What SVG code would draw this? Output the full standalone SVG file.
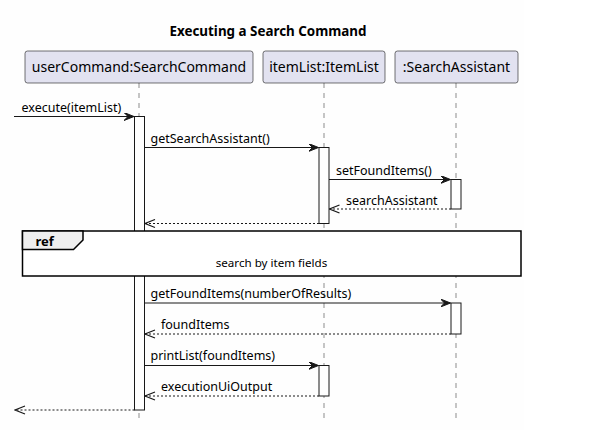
<svg xmlns="http://www.w3.org/2000/svg" width="608" height="436" viewBox="0 0 608 436">
  <defs>
    <style>
      .bg { fill: #FEFEFE; }
      .title { font-family: "Noto Sans", "Open Sans", sans-serif; font-size: 13.4px; font-weight: bold; fill: #000; }
      .pbox { fill: #E2E2F0; stroke: #181818; stroke-width: 0.6; }
      .ptext { font-family: "Noto Sans", "Open Sans", sans-serif; font-size: 14px; fill: #000; }
      .life { stroke: #181818; stroke-width: 0.5; stroke-dasharray: 5 5; fill: none; }
      .act { fill: #FFFFFF; stroke: #181818; stroke-width: 1; }
      .msg { stroke: #181818; stroke-width: 1; fill: none; }
      .ret { stroke: #181818; stroke-width: 1; stroke-dasharray: 2 2; fill: none; }
      .mtext { font-family: "Noto Sans", "Open Sans", sans-serif; font-size: 12.5px; fill: #000; }
      .head { fill: #181818; stroke: #181818; stroke-width: 1; }
      .ohead { fill: none; stroke: #181818; stroke-width: 1.2; }
      .refbox { fill: #FFFFFF; stroke: #000; stroke-width: 1.5; }
      .reftab { fill: #EEEEEE; stroke: #000; stroke-width: 1.5; }
      .reflabel { font-family: "Noto Sans", "Open Sans", sans-serif; font-size: 13px; font-weight: bold; fill: #000; }
      .reftext { font-family: "Noto Sans", "Open Sans", sans-serif; font-size: 11.6px; fill: #000; }
    </style>
    <marker id="solid" viewBox="0 0 10 8" refX="10" refY="4" markerWidth="10" markerHeight="8" markerUnits="userSpaceOnUse" orient="auto">
      <path class="head" d="M0,0 L10,4 L0,8 L4,4 Z"/>
    </marker>
    <marker id="open" viewBox="0 0 12 10" refX="11" refY="5" markerWidth="12" markerHeight="10" markerUnits="userSpaceOnUse" orient="auto">
      <path class="ohead" d="M1,1 L11,5 L1,9"/>
    </marker>
  </defs>

  <rect class="bg" x="0" y="0" width="524" height="430"/>

  <text class="title" x="268" y="36" text-anchor="middle">Executing a Search Command</text>

  <!-- lifelines -->
  <g id="lifelines">
    <line class="life" x1="139" y1="83" x2="139" y2="422"/>
    <line class="life" x1="324" y1="83" x2="324" y2="422"/>
    <line class="life" x1="456" y1="83" x2="456" y2="422"/>
  </g>

  <!-- participants -->
  <g id="userCommand">
    <rect class="pbox" x="25" y="51" width="228" height="32" rx="2.5"/>
    <text class="ptext" x="139" y="72" text-anchor="middle">userCommand:SearchCommand</text>
  </g>
  <g id="itemList">
    <rect class="pbox" x="263" y="51" width="122" height="32" rx="2.5"/>
    <text class="ptext" x="324" y="72" text-anchor="middle">itemList:ItemList</text>
  </g>
  <g id="searchAssistant">
    <rect class="pbox" x="395" y="51" width="123" height="32" rx="2.5"/>
    <text class="ptext" x="456.5" y="72" text-anchor="middle">:SearchAssistant</text>
  </g>

  <!-- activations -->
  <g id="activations">
    <rect class="act" x="134.5" y="116.5" width="10" height="293.5"/>
    <rect class="act" x="319" y="147.5" width="10" height="76"/>
    <rect class="act" x="451" y="179.5" width="10" height="29.5"/>
    <rect class="act" x="451" y="303" width="10" height="31"/>
    <rect class="act" x="319" y="365.5" width="10" height="30.5"/>
  </g>

  <!-- messages -->
  <g id="connectors">
    <line class="msg" x1="14" y1="116.5" x2="134" y2="116.5" marker-end="url(#solid)"/>
    <text class="mtext" x="21.5" y="112">execute(itemList)</text>

    <line class="msg" x1="144.5" y1="147.5" x2="318.5" y2="147.5" marker-end="url(#solid)"/>
    <text class="mtext" x="150.5" y="143">getSearchAssistant()</text>

    <line class="msg" x1="329" y1="179.5" x2="450.5" y2="179.5" marker-end="url(#solid)"/>
    <text class="mtext" x="336" y="174.5">setFoundItems()</text>

    <line class="ret" x1="451" y1="209" x2="329.5" y2="209" marker-end="url(#open)"/>
    <text class="mtext" x="346" y="204.5">searchAssistant</text>

    <line class="ret" x1="319" y1="223.5" x2="145" y2="223.5" marker-end="url(#open)"/>

    <line class="msg" x1="144.5" y1="303" x2="450.5" y2="303" marker-end="url(#solid)"/>
    <text class="mtext" x="150.5" y="298">getFoundItems(numberOfResults)</text>

    <line class="ret" x1="451" y1="334" x2="145" y2="334" marker-end="url(#open)"/>
    <text class="mtext" x="161" y="329">foundItems</text>

    <line class="msg" x1="144.5" y1="365.5" x2="318.5" y2="365.5" marker-end="url(#solid)"/>
    <text class="mtext" x="150.5" y="360">printList(foundItems)</text>

    <line class="ret" x1="319" y1="396" x2="145" y2="396" marker-end="url(#open)"/>
    <text class="mtext" x="161" y="391">executionUiOutput</text>

    <line class="ret" x1="134.5" y1="410" x2="15" y2="410" marker-end="url(#open)"/>
  </g>

  <!-- reference fragment -->
  <g id="ref">
    <rect class="refbox" x="22.5" y="231" width="498.5" height="45"/>
    <path class="reftab" d="M22.5,231 L83,231 L83,240 L73.5,249.5 L22.5,249.5 Z"/>
    <text class="reflabel" x="35.5" y="246">ref</text>
    <text class="reftext" x="271.5" y="267" text-anchor="middle">search by item fields</text>
  </g>
</svg>
